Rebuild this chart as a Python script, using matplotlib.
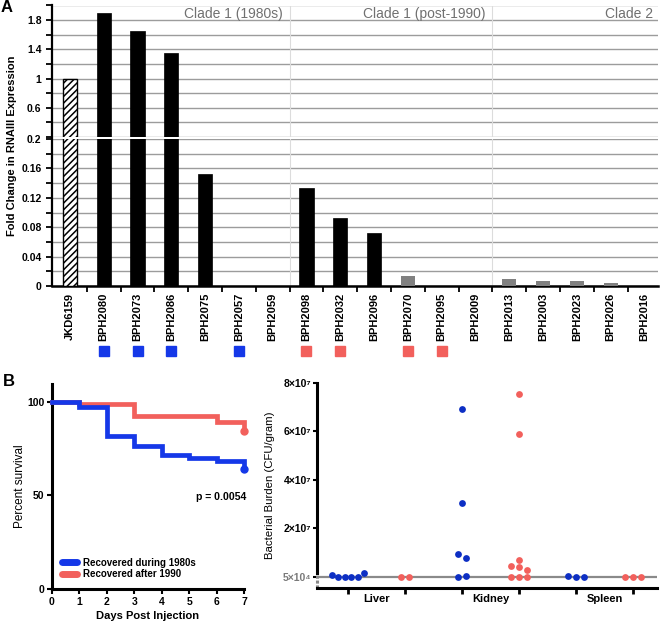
import numpy as np
import matplotlib
matplotlib.use('Agg')
import matplotlib.pyplot as plt
from matplotlib.transforms import blended_transform_factory
from matplotlib.lines import Line2D

plt.rcParams['font.family'] = ['Liberation Sans', 'DejaVu Sans']
plt.rcParams['hatch.linewidth'] = 1.1

# ---------------- Panel A data ----------------
strains = ['JKD6159', 'BPH2080', 'BPH2073', 'BPH2086', 'BPH2075', 'BPH2057',
           'BPH2059', 'BPH2098', 'BPH2032', 'BPH2096', 'BPH2070', 'BPH2095',
           'BPH2009', 'BPH2013', 'BPH2003', 'BPH2023', 'BPH2026', 'BPH2016']
fold_change = [1.0, 1.9, 1.65, 1.35, 0.152, 0.0, 0.0, 0.133, 0.0925, 0.072,
               0.0136, 0.0, 0.0, 0.0095, 0.0072, 0.007, 0.004, 0.0]
bar_style = ['hatch'] + ['black'] * 9 + ['gray'] * 8
marker_era = ['', '1980s', '1980s', '1980s', '', '1980s', '', 'post', 'post', '',
              'post', 'post', '', '', '', '', '', '']
clade_names = ['Clade 1 (1980s)', 'Clade 1 (post-1990)', 'Clade 2']
clade_last_strain = ['BPH2059', 'BPH2009', 'BPH2016']

# ---------------- Panel B survival data ----------------
days_1980s = [0, 1, 2, 3, 4, 5, 6, 7]
surv_1980s = [100, 97.3, 81.6, 76.6, 71.8, 70.0, 68.5, 64.0]
days_1990 = [0, 1, 3, 6, 7]
surv_1990 = [100, 98.9, 92.3, 89.3, 84.6]
p_value_text = 'p = 0.0054'

# ---------------- Panel B bacterial burden data ----------------
organs = ['Liver', 'Kidney', 'Spleen']
detection_limit = 5e4
liver_1980s = [0.9e6, 5e4, 5e4, 5e4, 5e4, 1.5e6]
liver_1990 = [5e4, 5e4]
kidney_1980s = [6.93e7, 3.03e7, 9.35e6, 7.8e6, 5e4, 4e5]
kidney_1990 = [7.53e7, 5.89e7, 4.4e6, 3.9e6, 6.9e6, 2.6e6, 5e4, 5e4, 5e4]
spleen_1980s = [4e5, 5e4, 5e4]
spleen_1990 = [5e4, 5e4, 5e4]
burden_ticks = [5e4, 2e7, 4e7, 6e7, 8e7]
burden_ticklabels = ['5×10⁴', '2×10⁷', '4×10⁷', '6×10⁷', '8×10⁷']

BLUE = '#1538e8'
BLUE_DOT = '#0d2fc4'
RED = '#f2605c'
GRID = '#9c9c9c'

W, H = 660, 622
fig = plt.figure(figsize=(W / 100, H / 100), dpi=100)


def axes_px(left, top, right, bottom):
    return fig.add_axes([left / W, 1 - bottom / H, (right - left) / W, (bottom - top) / H])


# ================= Panel A =================
ax_up = axes_px(52, 5.5, 658, 137)
ax_lo = axes_px(52, 139, 658, 286)
x = np.arange(len(strains))
xlim = (-0.53, 17.4)

for ax in (ax_up, ax_lo):
    ax.set_xlim(*xlim)
    ax.set_axisbelow(True)
    for xi, v, st in zip(x, fold_change, bar_style):
        if v <= 0:
            continue
        if st == 'hatch':
            ax.bar(xi, v, width=0.42, facecolor='white', edgecolor='black',
                   hatch='/////', linewidth=1.0, zorder=3)
        elif st == 'black':
            ax.bar(xi, v, width=0.42, color='black', edgecolor='black', linewidth=0.5, zorder=3)
        else:
            ax.bar(xi, v, width=0.42, color='#808080', linewidth=0, zorder=3)
    for last in clade_last_strain[:-1]:
        ax.axvline(strains.index(last) + 0.5, color='#dcdcdc', lw=0.8, zorder=1)
    ax.spines['top'].set_visible(False)
    ax.spines['right'].set_visible(False)
    ax.spines['left'].set_linewidth(1.6)
    ax.tick_params(axis='y', which='both', direction='out', length=4, width=1.3,
                   labelsize=7.5)
    ax.grid(True, axis='y', which='both', color=GRID, lw=1.0, zorder=0)

ax_up.set_ylim(0.2, 2.0)
ax_up.set_yticks([0.2, 0.6, 1.0, 1.4, 1.8])
ax_up.set_yticklabels(['', '0.6', '1', '1.4', '1.8'], fontweight='bold')
ax_up.set_yticks(np.arange(0.4, 2.01, 0.4), minor=True)
ax_up.spines['bottom'].set_visible(False)
ax_up.tick_params(axis='x', which='both', bottom=False, labelbottom=False)

ax_lo.set_ylim(0, 0.2)
yt = np.arange(0, 0.201, 0.04)
ax_lo.set_yticks(yt)
ax_lo.set_yticklabels(['0', '0.04', '0.08', '0.12', '0.16', '0.2'], fontweight='bold')
ax_lo.set_yticks(np.arange(0.02, 0.2, 0.04), minor=True)
ax_lo.spines['bottom'].set_linewidth(1.8)
ax_lo.set_xticks(x)
ax_lo.set_xticklabels(strains, rotation=90, fontweight='bold', fontsize=8)
ax_lo.set_xticks(np.arange(0.5, len(strains) - 0.5, 1), minor=True)
ax_lo.tick_params(axis='x', which='major', length=0, pad=5)
ax_lo.tick_params(axis='x', which='minor', length=4, width=1.3, direction='out')

# clade labels
for name, last, in zip(clade_names, clade_last_strain):
    xr = strains.index(last) + 0.3 if last != strains[-1] else 17.25
    ax_up.text(xr, 1.885, name, ha='right', va='center', fontsize=10, color='#707070')

# era squares under labels
trans_sq = blended_transform_factory(ax_lo.transData, ax_lo.transAxes)
era_color = {'1980s': BLUE, 'post': RED}
for xi, era in zip(x, marker_era):
    if era:
        ax_lo.plot([xi], [-0.442], marker='s', markersize=7.3, color=era_color[era],
                   transform=trans_sq, clip_on=False, linestyle='none')

fig.text(12 / W, 1 - 146 / H, 'Fold Change in RNAIII Expression', rotation=90,
         ha='center', va='center', fontsize=8, fontweight='bold')
fig.text(7 / W, 1 - 8 / H, 'A', ha='center', va='center', fontsize=12, fontweight='bold')
fig.text(9 / W, 1 - 382 / H, 'B', ha='center', va='center', fontsize=12, fontweight='bold')

# ================= Panel B: survival =================
ax_s = axes_px(52, 384, 244, 589)
ax_s.set_xlim(0, 7)
ax_s.set_ylim(0, 109.6)
ax_s.step(days_1990, surv_1990, where='post', color=RED, lw=3.4, clip_on=False,
          solid_joinstyle='miter', zorder=3)
ax_s.step(days_1980s, surv_1980s, where='post', color=BLUE, lw=3.4, clip_on=False,
          solid_joinstyle='miter', zorder=4)
ax_s.plot([days_1990[-1]], [surv_1990[-1]], 'o', color=RED, ms=5, clip_on=False, zorder=3)
ax_s.plot([days_1980s[-1]], [surv_1980s[-1]], 'o', color=BLUE, ms=5, clip_on=False, zorder=4)
for s in ('top', 'right'):
    ax_s.spines[s].set_visible(False)
ax_s.spines['left'].set_linewidth(2.2)
ax_s.spines['bottom'].set_linewidth(2.2)
ax_s.set_xticks(range(0, 8))
ax_s.set_yticks([0, 50, 100])
ax_s.tick_params(direction='out', length=3.5, width=1.5, labelsize=7.5, pad=2)
for lab in ax_s.get_xticklabels() + ax_s.get_yticklabels():
    lab.set_fontweight('bold')
ax_s.set_xlabel('Days Post Injection', fontsize=8, fontweight='bold', labelpad=3)
ax_s.set_ylabel('Percent survival', fontsize=8.5, labelpad=1)
ax_s.text(7.1, 49.2, p_value_text, ha='right', va='center', fontsize=7.6, fontweight='bold')
handles = [Line2D([], [], color=BLUE, lw=5, solid_capstyle='round'),
           Line2D([], [], color=RED, lw=5, solid_capstyle='round')]
leg = ax_s.legend(handles, ['Recovered during 1980s', 'Recovered after 1990'],
                  loc='lower left', bbox_to_anchor=(0.02, 0.02), frameon=False,
                  prop={'size': 7, 'weight': 'bold'}, handlelength=1.6,
                  handletextpad=0.6, labelspacing=0.15, borderaxespad=0.2)

# ================= Panel B: bacterial burden =================
ax_b = axes_px(317, 383, 657, 588)
bx_lim = (-0.544, 5.42)
by_lim = (-4.67e6, 8.0e7)
ax_b.set_xlim(*bx_lim)
ax_b.set_ylim(*by_lim)
ax_w_px, ax_h_px = 340, 205
px_per_x = ax_w_px / (bx_lim[1] - bx_lim[0])
px_per_y = ax_h_px / (by_lim[1] - by_lim[0])


def swarm_x(center, vals, tol_px=6.0, step_px=8.0, max_width_px=32.0):
    vals = np.asarray(vals, dtype=float)
    order = np.argsort(vals, kind='stable')
    rows, cur, start = [], [], None
    for i in order:
        if start is None or (vals[i] - start) * px_per_y > tol_px:
            if cur:
                rows.append(cur)
            cur, start = [i], vals[i]
        else:
            cur.append(i)
    if cur:
        rows.append(cur)
    xs = np.zeros(len(vals))
    for row in rows:
        row = sorted(row)
        n = len(row)
        sp = step_px if n == 1 else min(step_px, max_width_px / (n - 1))
        offs = (np.arange(n) - (n - 1) / 2) * sp
        for i, o in zip(row, offs):
            xs[i] = center + o / px_per_x
    return xs


groups = [(liver_1980s, BLUE_DOT), (liver_1990, RED),
          (kidney_1980s, BLUE_DOT), (kidney_1990, RED),
          (spleen_1980s, BLUE_DOT), (spleen_1990, RED)]
ax_b.axhline(detection_limit, color='#8a8a8a', lw=1.6, zorder=1)
for gi, (vals, col) in enumerate(groups):
    xs = swarm_x(gi, vals)
    ax_b.scatter(xs, vals, s=24, color=col, linewidths=0, zorder=3, clip_on=False)

for s in ('top', 'right'):
    ax_b.spines[s].set_visible(False)
ax_b.spines['left'].set_linewidth(2.2)
ax_b.spines['left'].set_bounds(1.6e6, by_lim[1])
ax_b.spines['bottom'].set_linewidth(2.2)
ax_b.plot([bx_lim[0], bx_lim[0]], [by_lim[0], 1.6e6], color='#888888', lw=2.2,
          linestyle=(0, (1.0, 0.6)), clip_on=False, zorder=2)
ax_b.set_yticks(burden_ticks)
ax_b.set_yticklabels(burden_ticklabels, fontsize=7.5, fontweight='bold')
ax_b.get_yticklabels()[0].set_color('#7a7a7a')
ax_b.tick_params(axis='y', direction='out', length=3, width=1.5, pad=1)
ax_b.set_xticks(range(6))
ax_b.set_xticklabels([''] * 6)
ax_b.tick_params(axis='x', which='major', direction='out', length=4, width=2)
ax_b.set_xticks([0.5, 2.5, 4.5], minor=True)
ax_b.set_xticklabels(organs, minor=True, fontsize=8, fontweight='bold')
ax_b.tick_params(axis='x', which='minor', length=0, pad=4)
ax_b.set_ylabel('Bacterial Burden (CFU/gram)', fontsize=8.2, labelpad=6)

fig.savefig('out.png', dpi=100)
